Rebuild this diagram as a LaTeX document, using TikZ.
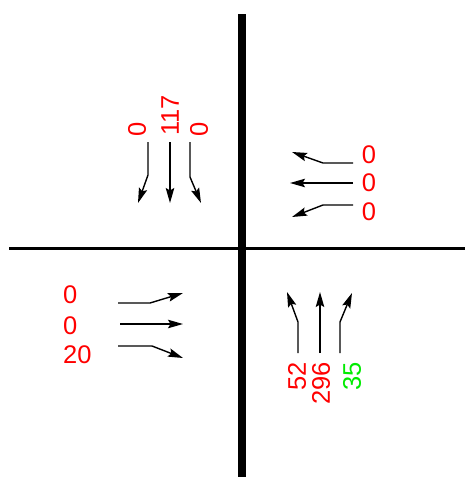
\documentclass[tikz,border=0pt]{standalone}
\usepackage{fontspec}
\setmainfont{Liberation Sans}
\usetikzlibrary{arrows.meta}
\definecolor{cntred}{RGB}{255,0,0}
\definecolor{cntgreen}{RGB}{0,235,0}

\begin{document}
\begin{tikzpicture}[x=1pt, y=-1pt,
    lane/.style={line width=1.4pt, -{Stealth[length=15pt, width=8.5pt, inset=2.5pt]}},
    cnt/.style={font=\fontsize{25.5}{25.5}\selectfont, text=cntred, inner sep=0pt}]
  \useasboundingbox (0,0) rectangle (465,477);
  % ---------- road axes ----------
  \draw[line width=8pt] (242,14) -- (242,477);
  \draw[line width=3pt] (9,248) -- (465,248);
  % ---------- north approach ----------
  \draw[lane] (148,142) -- (148,175) -- (138,203);
  \draw[lane] (170,142) -- (170,203);
  \draw[lane] (190,142) -- (190,177) -- (201,203);
  \node[cnt, rotate=90, anchor=west] (nl) at (137,137) {0};
  \node[cnt, rotate=90, anchor=west] (nt) at (170,136) {117};
  \node[cnt, rotate=90, anchor=west] (nr) at (199,137) {0};
  % ---------- east approach ----------
  \draw[lane] (353,163) -- (323,163) -- (292,152);
  \draw[lane] (353,183) -- (290,183);
  \draw[lane] (353,205) -- (323,205) -- (292,217);
  \node[cnt] (er) at (369,155) {0};
  \node[cnt] (et) at (369,183) {0};
  \node[cnt] (el) at (369,212) {0};
  % ---------- west approach ----------
  \draw[lane] (118,303) -- (150,303) -- (183,293);
  \draw[lane] (120,324) -- (183,324);
  \draw[lane] (118,346) -- (152,346) -- (183,358);
  \node[cnt, anchor=west] (wl) at (63,295) {0};
  \node[cnt, anchor=west] (wt) at (63,326) {0};
  \node[cnt, anchor=west] (wr) at (63,355) {20};
  % ---------- south approach ----------
  \draw[lane] (298,353) -- (298,322) -- (287,292);
  \draw[lane] (320,353) -- (320,292);
  \draw[lane] (340,353) -- (340,322) -- (352,293);
  \node[cnt, rotate=90, anchor=east] (sl) at (297,362) {52};
  \node[cnt, rotate=90, anchor=east] (st) at (321,362) {296};
  \node[cnt, rotate=90, anchor=east, text=cntgreen] (sr) at (352,362) {35};
\end{tikzpicture}
\end{document}
